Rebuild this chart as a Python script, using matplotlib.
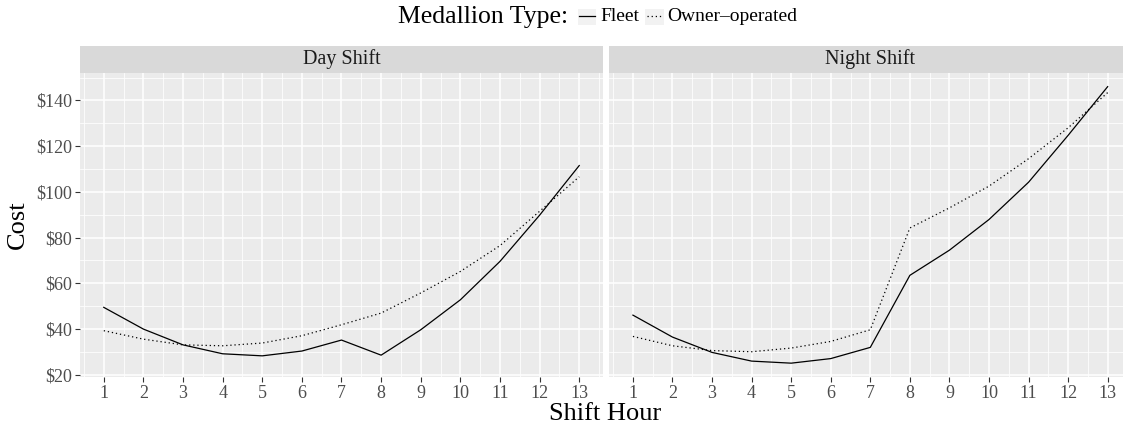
import numpy as np
import matplotlib.pyplot as plt
from matplotlib.lines import Line2D
from matplotlib.patches import Rectangle
from matplotlib.ticker import FixedLocator, FuncFormatter

plt.rcParams['font.family'] = ['Liberation Serif', 'DejaVu Serif']

# DATA
hours = np.arange(1, 14)
day_fleet = [49.5, 40.0, 33.1, 29.2, 28.3, 30.4, 35.2, 28.6, 39.7, 52.8, 69.6, 89.8, 111.5]
day_owner = [39.3, 35.6, 33.1, 32.7, 33.9, 37.1, 41.9, 47.0, 55.8, 65.2, 76.5, 91.5, 106.6]
night_fleet = [46.1, 36.5, 29.8, 26.0, 25.1, 27.1, 32.0, 63.5, 74.5, 87.9, 104.2, 124.7, 146.0]
night_owner = [36.8, 32.7, 30.6, 30.1, 31.7, 34.6, 39.7, 84.2, 93.0, 102.5, 114.5, 128.0, 143.4]
panels = ['Day Shift', 'Night Shift']
series = [(day_fleet, day_owner), (night_fleet, night_owner)]
yticks = [20, 40, 60, 80, 100, 120, 140]

W, H = 1123, 423
fig = plt.figure(figsize=(W / 100, H / 100), dpi=100)

def box(x0, x1, y0, y1):
    # pixel box -> figure coords
    return [x0 / W, 1 - y1 / H, (x1 - x0) / W, (y1 - y0) / H]

panel_x = [(80, 603), (609.2, 1131.4)]
top, bottom = 72.7, 377
strip_top = 45.7

for i, (name, (fleet, owner)) in enumerate(zip(panels, series)):
    x0, x1 = panel_x[i]
    ax = fig.add_axes(box(x0, x1, top, bottom))
    ax.set_facecolor('#EBEBEB')
    for s in ax.spines.values():
        s.set_visible(False)
    ax.plot(hours, fleet, color='black', lw=0.9, solid_joinstyle='round')
    ax.plot(hours, owner, color='black', lw=0.9, linestyle=(0, (1, 2.3)))
    ax.set_xlim(0.4, 13.6)
    ax.set_ylim(19.05, 152.1)
    ax.set_xticks(hours)
    ax.xaxis.set_minor_locator(FixedLocator(np.arange(0.5, 14, 1)))
    ax.set_yticks(yticks)
    ax.yaxis.set_minor_locator(FixedLocator(np.arange(30, 160, 20)))
    ax.grid(which='major', color='white', lw=1.1)
    ax.grid(which='minor', color='white', lw=0.55)
    ax.set_axisbelow(True)
    ax.tick_params(which='minor', length=0)
    ax.tick_params(which='major', length=3.5, width=0.8, color='#333333',
                   labelcolor='#4D4D4D', labelsize=13, pad=2)
    if i == 0:
        ax.yaxis.set_major_formatter(FuncFormatter(lambda v, p: '$%d' % v))
    else:
        ax.tick_params(axis='y', left=False, labelleft=False)

    sax = fig.add_axes(box(x0, x1, strip_top, top))
    sax.set_facecolor('#D9D9D9')
    sax.set_xticks([])
    sax.set_yticks([])
    for s in sax.spines.values():
        s.set_visible(False)
    sax.text(0.5, 0.5, name, ha='center', va='center', fontsize=14.5,
             color='#1A1A1A', transform=sax.transAxes)

# axis titles
fig.text(18 / W, 1 - 225 / H, 'Cost', rotation=90, ha='center', va='center', fontsize=19)
fig.text(605.5 / W, 1 - 420 / H, 'Shift Hour', ha='center', va='baseline', fontsize=19)

# legend on top
ly = 1 - 16.5 / H
fig.text(398 / W, ly, 'Medallion Type:', ha='left', va='center', fontsize=18.5)
for kx, style in [(577.5, '-'), (645, (0, (1, 2.3)))]:
    fig.patches.append(Rectangle((kx / W, 1 - 25 / H), 18.5 / W, 16 / H,
                                 transform=fig.transFigure, facecolor='#F2F2F2',
                                 edgecolor='none'))
    fig.lines.append(Line2D([(kx + 1.5) / W, (kx + 17) / W], [ly, ly],
                            transform=fig.transFigure, color='black', lw=0.9,
                            linestyle=style))
fig.text(600.5 / W, ly, 'Fleet', ha='left', va='center', fontsize=14)
fig.text(667 / W, ly, 'Owner\u2013operated', ha='left', va='center', fontsize=14)

fig.savefig('out.png', dpi=100)
